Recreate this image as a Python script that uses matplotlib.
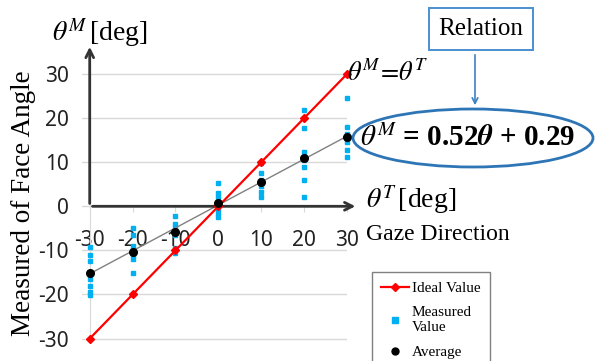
import matplotlib
matplotlib.use("Agg")
import matplotlib.pyplot as plt
from matplotlib.patches import Ellipse, FancyArrowPatch
from matplotlib.lines import Line2D

plt.rcParams['mathtext.fontset'] = 'stix'
serif = 'Liberation Serif'
sans = 'Noto Sans'

# gaze direction (theta^T) and the values
gaze = [-30, -20, -10, 0, 10, 20, 30]
ideal = [-30, -20, -10, 0, 10, 20, 30]
average = [-15.1, -10.3, -5.8, 0.8, 5.6, 10.9, 15.8]
fit_x = [-30, 30]
fit_y = [-15.3, 15.9]
measured = {
    -30: [-9.2, -11.0, -12.5, -16.5, -18.0, -19.5, -20.2],
    -20: [-5.0, -6.4, -9.0, -10.0, -11.0, -12.0, -15.2],
    -10: [-2.3, -4.0, -5.0, -6.4, -9.5, -10.5],
    0: [5.2, 3.0, 2.0, 0.8, -0.5, -1.5, -2.4],
    10: [9.8, 7.5, 6.0, 4.5, 3.2, 2.0],
    20: [21.8, 17.7, 12.4, 10.5, 9.0, 6.0, 2.2],
    30: [24.5, 18.0, 16.5, 14.6, 12.8, 11.2],
}
yticks = [-30, -20, -10, 0, 10, 20, 30]

W, H = 596, 361
fig = plt.figure(figsize=(W / 100, H / 100), dpi=100)

# axes box in pixels: x -31.8..30 -> px 82..347, y -31..31 -> py 343..69.6
ax = fig.add_axes([82 / W, (H - 343) / H, (347 - 82) / W, (343 - 69.6) / H])
ax.set_xlim(-31.8, 30)
ax.set_ylim(-31, 31)

for s in ['top', 'right']:
    ax.spines[s].set_visible(False)
ax.spines['left'].set_position(('data', -30))
ax.spines['left'].set_color('#d9d9d9')
ax.spines['bottom'].set_position(('data', 0))
ax.spines['bottom'].set_visible(False)

ax.set_yticks(yticks)
ax.set_yticklabels([str(v) for v in yticks], fontsize=15, family=sans, color='#222222')
ax.tick_params(axis='y', length=0, pad=15)
ax.set_xticks(gaze)
ax.set_xticklabels([str(v) for v in gaze], fontsize=15, family=sans, color='#222222')
ax.tick_params(axis='x', length=4, color='#d9d9d9', pad=13, direction='out')
ax.yaxis.grid(True, color='#d9d9d9', lw=1)
ax.set_axisbelow(True)

# measured values
for x, vals in measured.items():
    ax.plot([x] * len(vals), vals, ls='none', marker='s', ms=2.2, color='#00b0f0',
            mec='#00b0f0', clip_on=False, zorder=3)

ax.plot(fit_x, fit_y, color='#808080', lw=1, zorder=3)
ax.plot(gaze, ideal, color='#ff0000', lw=1.6, marker='D', ms=4.5, clip_on=False, zorder=4)
ax.plot(gaze, average, ls='none', marker='o', ms=5.5, color='black', clip_on=False, zorder=5)

# drawn axes with arrows
ax.annotate('', xy=(-30, 36.8), xytext=(-30, 0), annotation_clip=False,
            arrowprops=dict(arrowstyle='->', color='#333333', lw=2, mutation_scale=14))
ax.annotate('', xy=(32.6, 0), xytext=(-30, 0), annotation_clip=False,
            arrowprops=dict(arrowstyle='->', color='#333333', lw=2, mutation_scale=14))


def ftext(px, py, s, **kw):
    fig.text(px / W, 1 - py / H, s, **kw)


ftext(52, 32, r'$\theta^M\,$[deg]', fontsize=20, family=serif, va='center', ha='left')
ftext(24, 203, 'Measured of Face Angle', fontsize=19.5, family=serif, rotation=90,
      va='center', ha='center')
ftext(366, 200, r'$\theta^T\,$[deg]', fontsize=20, family=serif, va='center', ha='left')
ftext(366, 235, 'Gaze Direction', fontsize=17, family=serif, va='center', ha='left')
ftext(347, 73, r'$\theta^M\!=\!\theta^T$', fontsize=19, family=serif, va='center', ha='left')

# relation box and arrow
ftext(481, 29, 'Relation', fontsize=18, family=serif, va='center', ha='center',
      bbox=dict(boxstyle='square,pad=0.4', fc='white', ec='#4a8fd0', lw=1.4))
fig.add_artist(FancyArrowPatch(
    (475 / W, 1 - 52 / H), (475 / W, 1 - 108 / H), transform=fig.transFigure,
    arrowstyle='->', color='#3b82c4', lw=1.2, mutation_scale=10))
fig.add_artist(Ellipse((473 / W, 1 - 138 / H), 240 / W, 58 / H, transform=fig.transFigure,
                       fc='none', ec='#2e75b6', lw=2))
ftext(468, 138, r'$\theta^M$ = 0.52$\mathbfit{\theta}$ + 0.29', fontsize=21, family=serif,
      fontweight='bold', va='center', ha='center')

# legend
handles = [
    Line2D([], [], color='#ff0000', lw=1.6, marker='D', ms=4),
    Line2D([], [], ls='none', marker='s', ms=5, color='#00b0f0'),
    Line2D([], [], ls='none', marker='o', ms=5, color='black'),
]
leg = fig.legend(handles, ['Ideal Value', 'Measured\nValue', 'Average'],
                 loc='upper left', bbox_to_anchor=(372 / W, 1 - 272 / H), borderaxespad=0,
                 prop={'family': serif, 'size': 11}, fancybox=False, edgecolor='#808080',
                 framealpha=1, handlelength=1.8, handletextpad=0.2, borderpad=0.6,
                 labelspacing=0.75)
leg.get_frame().set_linewidth(1)

fig.savefig('out.png', dpi=100)
